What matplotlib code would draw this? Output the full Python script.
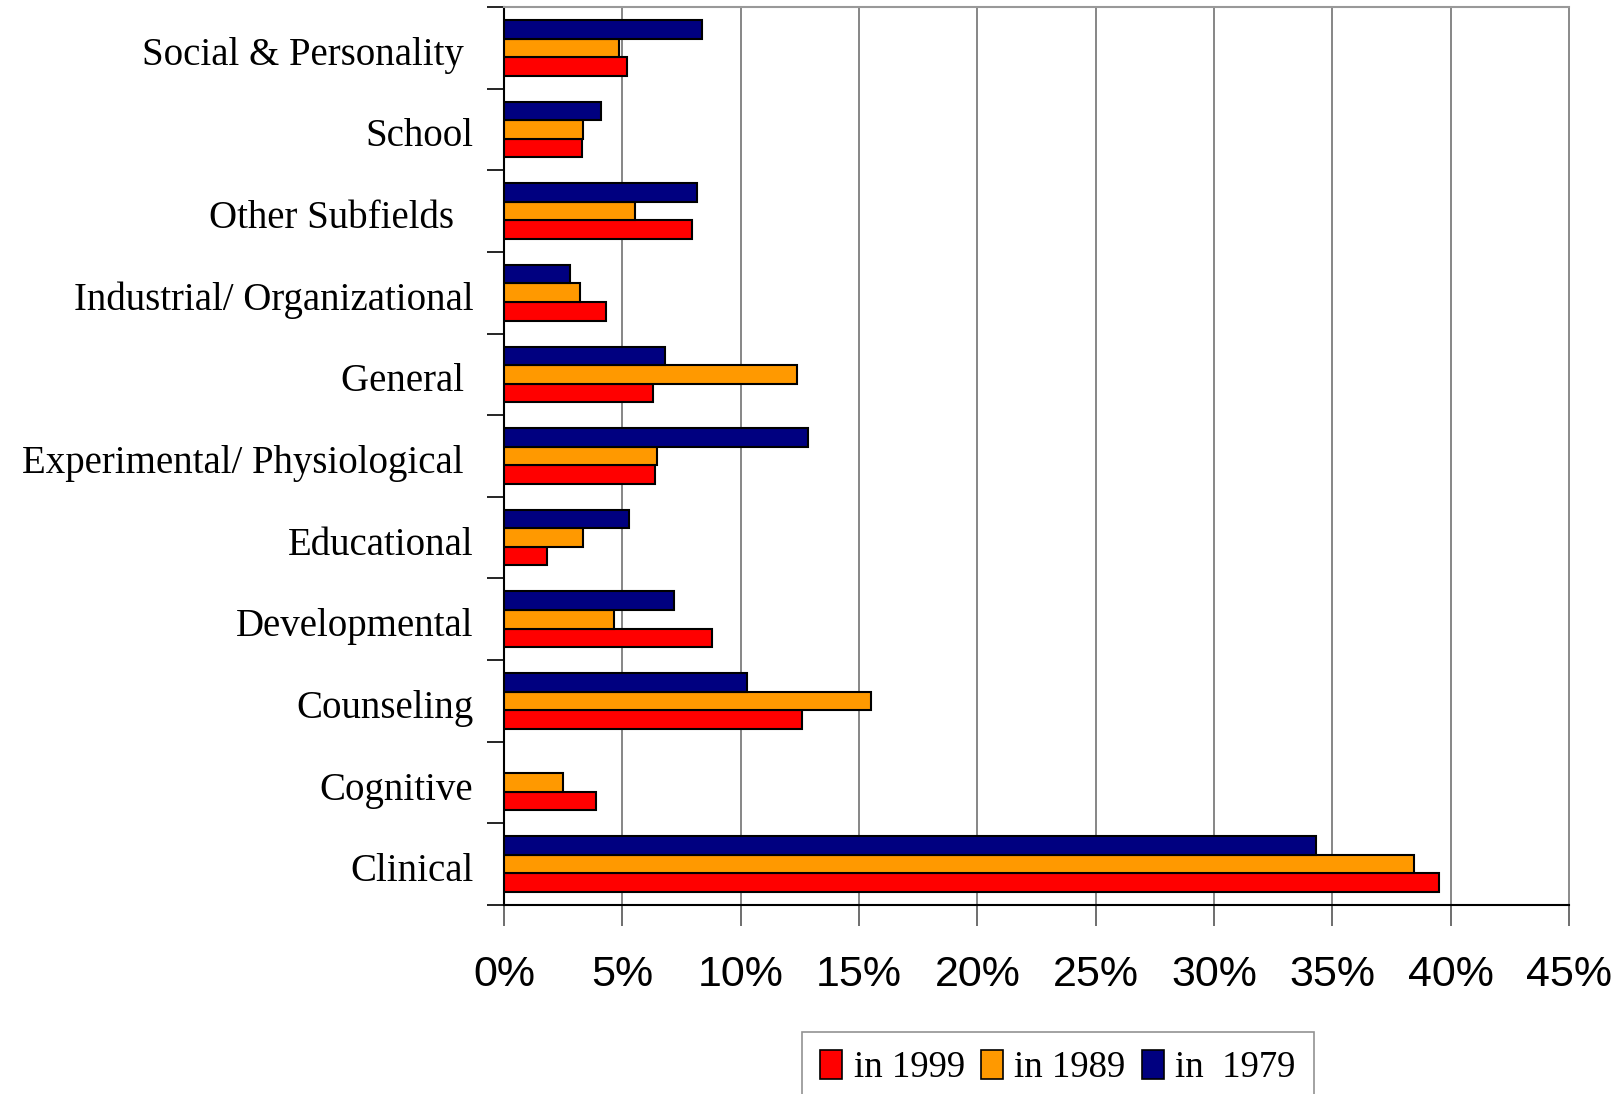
import matplotlib.pyplot as plt
import matplotlib.transforms as mtransforms
import numpy as np

# categories from bottom to top (trailing spaces keep the original label offsets)
categories = ["Clinical", "Cognitive", "Counseling", "Developmental", "Educational",
              "Experimental/ Physiological ", "General ", "Industrial/ Organizational",
              "Other Subfields  ", "School", "Social & Personality "]

# percent values
pct_1999 = [39.5, 3.9, 12.6, 8.8, 1.8, 6.4, 6.3, 4.3, 7.95, 3.3, 5.2]
pct_1989 = [38.45, 2.5, 15.5, 4.65, 3.35, 6.45, 12.4, 3.2, 5.55, 3.35, 4.85]
pct_1979 = [34.3, 0.0, 10.25, 7.2, 5.3, 12.85, 6.8, 2.8, 8.15, 4.1, 8.35]

series_labels = ["in 1999", "in 1989", "in  1979"]
colors = ["#FF0000", "#FF9900", "#000080"]

fig = plt.figure(figsize=(16.23, 10.94), dpi=100)
ax = fig.add_axes([504 / 1623, 1 - 905 / 1094, 1065 / 1623, 898 / 1094])

y = np.arange(len(categories))
h = 0.227
handles = []
for k, (vals, off) in enumerate(zip([pct_1999, pct_1989, pct_1979], [-h, 0, h])):
    vals = np.array(vals)
    mask = vals > 0
    b = ax.barh(y[mask] + off, vals[mask], height=h, color=colors[k],
                edgecolor="black", linewidth=1.5, zorder=3)
    handles.append(b)

ax.set_xlim(0, 45)
ax.set_ylim(-0.5, len(categories) - 0.5)

# x axis
ax.set_xticks(np.arange(0, 50, 5))
ax.set_xticklabels([f"{v}%" for v in range(0, 50, 5)], family="Liberation Sans", fontsize=31)
ax.tick_params(axis="x", direction="out", length=15, width=1.2, color="#555555", pad=21)
for v in range(5, 45, 5):
    ax.axvline(v, color="#666666", linewidth=1.1, zorder=1)

# y axis: labels at centres, ticks between groups
ax.set_yticks(y)
ax.set_yticklabels(categories, family="Liberation Serif", fontsize=28)
ax.tick_params(axis="y", which="major", length=0, pad=22)
ax.set_yticks(np.arange(-0.5, len(categories), 1), minor=True)
ax.tick_params(axis="y", which="minor", direction="out", length=12, width=1.2, color="black")
shift = mtransforms.ScaledTranslation(0, -3 / 100, fig.dpi_scale_trans)
for lbl in ax.get_yticklabels():
    lbl.set_verticalalignment("center_baseline")
    lbl.set_transform(lbl.get_transform() + shift)

ax.spines["left"].set_linewidth(1.5)
ax.spines["bottom"].set_linewidth(1.5)
ax.spines["top"].set_color("#999999")
ax.spines["top"].set_linewidth(1.5)
ax.spines["right"].set_color("#777777")
ax.spines["right"].set_linewidth(1.2)

leg = fig.legend(handles, series_labels, loc="upper left",
                 bbox_to_anchor=(802 / 1623, 1 - 1032 / 1094), ncol=3,
                 prop={"family": "Liberation Serif", "size": 26.5},
                 frameon=True, fancybox=False, edgecolor="#777777",
                 handlelength=0.6, handleheight=0.8, handletextpad=0.3,
                 columnspacing=0.45, borderpad=0.5, borderaxespad=0)
leg.get_frame().set_linewidth(1.2)
for p in leg.get_patches():
    p.set_linewidth(1.2)

fig.savefig("out.png", dpi=100)
